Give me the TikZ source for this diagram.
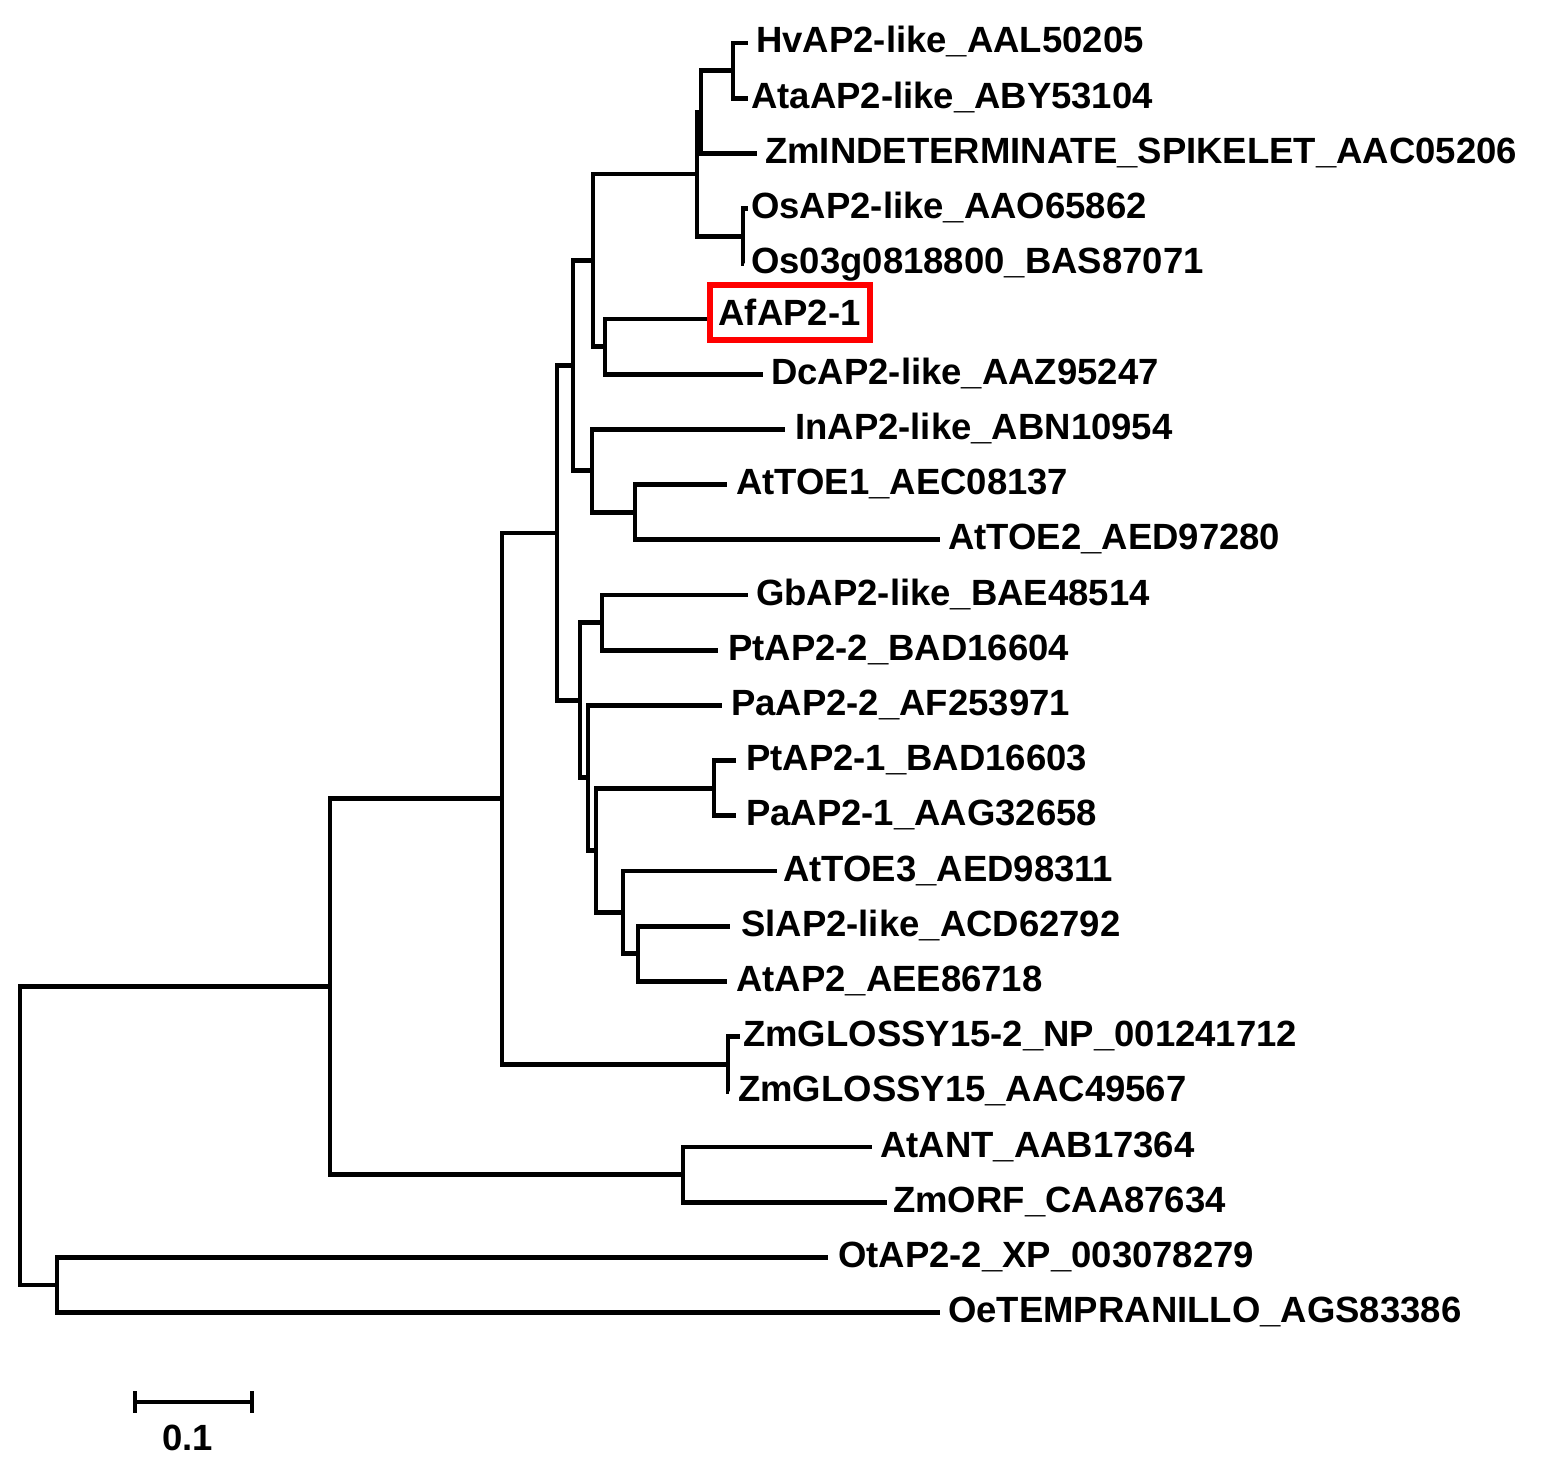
\documentclass[tikz,border=0pt]{standalone}
\usepackage{fontspec}
\setmainfont{Liberation Sans}
\begin{document}
\begin{tikzpicture}[x=1pt,y=-1pt,
  br/.style={draw=black, line width=4.8pt},
  lab/.style={anchor=base west, inner sep=0pt, font=\fontsize{36.5}{40}\selectfont\bfseries}]
\useasboundingbox (0,0) rectangle (1550,1471);
\fill[white] (0,0) rectangle (1550,1471);
% internal nodes
\coordinate (HvAta) at (733,70.6);
\coordinate (N1) at (701,112);
\coordinate (Os) at (743,236.2);
\coordinate (N2) at (697,174.1);
\coordinate (AfDc) at (605,346.6);
\coordinate (N3) at (593,260.35);
\coordinate (TOE12) at (635,512.2);
\coordinate (N5) at (592,470.8);
\coordinate (N4) at (573,365.6);
\coordinate (GbPt) at (602,622.6);
\coordinate (PtPa) at (714,788.2);
\coordinate (N11) at (638,953.8);
\coordinate (N10) at (623,912.4);
\coordinate (N9) at (596,850.3);
\coordinate (N8) at (588,777.85);
\coordinate (N7) at (580,700.2);
\coordinate (N6) at (557,532.9);
\coordinate (ZmG) at (728,1064.2);
\coordinate (N0) at (502,798.55);
\coordinate (ANT) at (683,1174.6);
\coordinate (A) at (330,986.6);
\coordinate (B) at (57,1285);
\coordinate (R) at (20,1135.8);
% leaf tips
\coordinate (t1) at (748,43);
\coordinate (t2) at (748,98.2);
\coordinate (t3) at (757,153.4);
\coordinate (t4) at (748,208.6);
\coordinate (t5) at (744,263.8);
\coordinate (t6) at (707,319);
\coordinate (t7) at (763,374.2);
\coordinate (t8) at (785,429.4);
\coordinate (t9) at (727,484.6);
\coordinate (t10) at (940,539.8);
\coordinate (t11) at (748,595);
\coordinate (t12) at (718,650.2);
\coordinate (t13) at (722,705.4);
\coordinate (t14) at (736,760.6);
\coordinate (t15) at (736,815.8);
\coordinate (t16) at (777,871);
\coordinate (t17) at (730,926.2);
\coordinate (t18) at (727,981.4);
\coordinate (t19) at (740,1036.6);
\coordinate (t20) at (729,1091.8);
\coordinate (t21) at (872,1147);
\coordinate (t22) at (887,1202.2);
\coordinate (t23) at (828,1257.4);
\coordinate (t24) at (940,1312.6);
% branches
\draw[br] (HvAta) |- (t1); \draw[br] (HvAta) |- (t2);
\draw[br] (N1) |- (HvAta); \draw[br] (N1) |- (t3);
\draw[br] (Os) |- (t4); \draw[br] (Os) |- (t5);
\draw[br] (N2) |- (N1); \draw[br] (N2) |- (Os);
\draw[br] (AfDc) |- (t6); \draw[br] (AfDc) |- (t7);
\draw[br] (N3) |- (N2); \draw[br] (N3) |- (AfDc);
\draw[br] (TOE12) |- (t9); \draw[br] (TOE12) |- (t10);
\draw[br] (N5) |- (t8); \draw[br] (N5) |- (TOE12);
\draw[br] (N4) |- (N3); \draw[br] (N4) |- (N5);
\draw[br] (GbPt) |- (t11); \draw[br] (GbPt) |- (t12);
\draw[br] (PtPa) |- (t14); \draw[br] (PtPa) |- (t15);
\draw[br] (N11) |- (t17); \draw[br] (N11) |- (t18);
\draw[br] (N10) |- (t16); \draw[br] (N10) |- (N11);
\draw[br] (N9) |- (PtPa); \draw[br] (N9) |- (N10);
\draw[br] (N8) |- (t13); \draw[br] (N8) |- (N9);
\draw[br] (N7) |- (GbPt); \draw[br] (N7) |- (N8);
\draw[br] (N6) |- (N4); \draw[br] (N6) |- (N7);
\draw[br] (ZmG) |- (t19); \draw[br] (ZmG) |- (t20);
\draw[br] (N0) |- (N6); \draw[br] (N0) |- (ZmG);
\draw[br] (ANT) |- (t21); \draw[br] (ANT) |- (t22);
\draw[br] (A) |- (N0); \draw[br] (A) |- (ANT);
\draw[br] (B) |- (t23); \draw[br] (B) |- (t24);
\draw[br] (R) |- (A); \draw[br] (R) |- (B);
% labels
\node[lab] (L1) at (756,53) {HvAP2-like\_AAL50205};
\node[lab] (L2) at (751,108.2) {AtaAP2-like\_ABY53104};
\node[lab] (L3) at (765,163.4) {ZmINDETERMINATE\_SPIKELET\_AAC05206};
\node[lab] (L4) at (751,218.6) {OsAP2-like\_AAO65862};
\node[lab] (L5) at (751,273.8) {Os03g0818800\_BAS87071};
\node[draw=red, line width=6pt, minimum width=160pt, minimum height=54pt, inner sep=0pt,
      font=\fontsize{36.5}{40}\selectfont\bfseries] (L6) at (789.5,312.5) {AfAP2-1};
\node[lab] (L7) at (771,384.2) {DcAP2-like\_AAZ95247};
\node[lab] (L8) at (795,439.4) {InAP2-like\_ABN10954};
\node[lab] (L9) at (736,494.6) {AtTOE1\_AEC08137};
\node[lab] (L10) at (948,549.8) {AtTOE2\_AED97280};
\node[lab] (L11) at (756,605) {GbAP2-like\_BAE48514};
\node[lab] (L12) at (728,660.2) {PtAP2-2\_BAD16604};
\node[lab] (L13) at (731,715.4) {PaAP2-2\_AF253971};
\node[lab] (L14) at (746,770.6) {PtAP2-1\_BAD16603};
\node[lab] (L15) at (746,825.8) {PaAP2-1\_AAG32658};
\node[lab] (L16) at (783,881) {AtTOE3\_AED98311};
\node[lab] (L17) at (741,936.2) {SlAP2-like\_ACD62792};
\node[lab] (L18) at (736,991.4) {AtAP2\_AEE86718};
\node[lab] (L19) at (743,1046.6) {ZmGLOSSY15-2\_NP\_001241712};
\node[lab] (L20) at (738,1101.8) {ZmGLOSSY15\_AAC49567};
\node[lab] (L21) at (880,1157) {AtANT\_AAB17364};
\node[lab] (L22) at (893,1212.2) {ZmORF\_CAA87634};
\node[lab] (L23) at (838,1267.4) {OtAP2-2\_XP\_003078279};
\node[lab] (L24) at (948,1322.6) {OeTEMPRANILLO\_AGS83386};
% scale bar
\coordinate (sb1) at (135,1402);
\coordinate (sb2) at (252,1402);
\draw[line width=4.5pt] (sb1) -- (sb2);
\draw[line width=4.5pt] (sb1) ++(0,-11) -- ++(0,22);
\draw[line width=4.5pt] (sb2) ++(0,-11) -- ++(0,22);
\node[font=\fontsize{36.5}{40}\selectfont\bfseries, inner sep=0pt] (sblab) at (187.5,1438) {0.1};
\end{tikzpicture}
\end{document}
